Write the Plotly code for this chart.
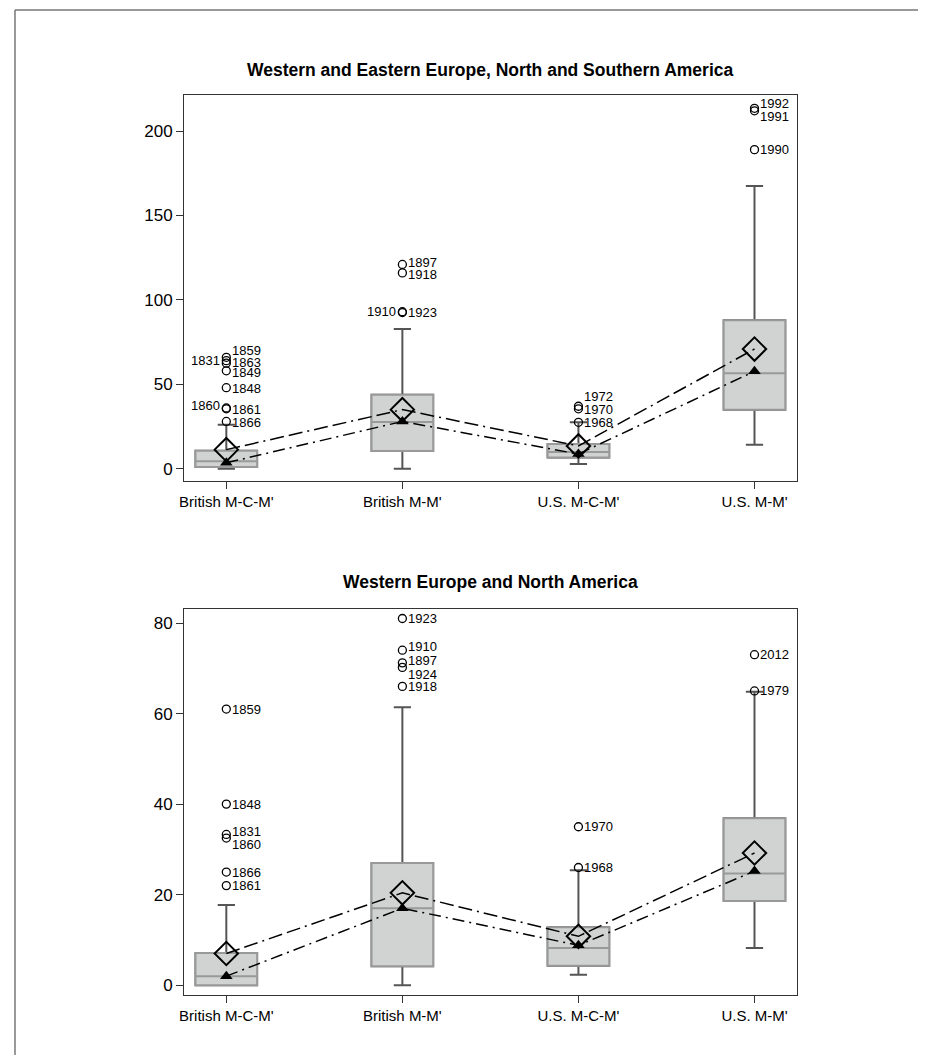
import plotly.graph_objects as go

categories = ["British M-C-M'", "British M-M'", "U.S. M-C-M'", "U.S. M-M'"]
positions = [0, 1, 2, 3]

# ---- top panel: Western and Eastern Europe, North and Southern America ----
top_title = "Western and Eastern Europe, North and Southern America"
top_lowerfence = [0.0, 0.0, 2.8, 14.2]
top_q1 = [1.0, 10.5, 6.7, 35.0]
top_median = [4.4, 27.7, 9.9, 56.5]
top_q3 = [10.7, 43.8, 14.6, 87.9]
top_upperfence = [26.1, 82.8, 27.5, 167.4]
top_mean = [11.3, 35.0, 13.5, 70.9]
top_triangle = [3.5, 28.0, 8.7, 57.7]
top_out_cat = [0, 0, 0, 0, 0, 0, 0, 0, 1, 1, 1, 1, 2, 2, 2, 3, 3, 3]
top_out_val = [66.0, 64.0, 62.5, 58.0, 48.0, 36.0, 35.5, 28.0,
               121.0, 116.0, 93.0, 92.5,
               37.0, 35.5, 27.5,
               213.5, 212.0, 189.0]
top_out_year = ["1859", "1831", "1863", "1849", "1848", "1860", "1861", "1866",
                "1897", "1918", "1910", "1923",
                "1972", "1970", "1968",
                "1992", "1991", "1990"]

# ---- bottom panel: Western Europe and North America ----
bot_title = "Western Europe and North America"
bot_lowerfence = [0.0, 0.0, 2.3, 8.2]
bot_q1 = [0.0, 4.2, 4.3, 18.6]
bot_median = [2.0, 17.0, 8.2, 24.7]
bot_q3 = [7.1, 27.0, 12.8, 36.9]
bot_upperfence = [17.7, 61.4, 25.4, 64.8]
bot_mean = [7.0, 20.4, 10.8, 29.2]
bot_triangle = [2.0, 17.0, 8.8, 25.2]
bot_out_cat = [0, 0, 0, 0, 0, 0, 1, 1, 1, 1, 1, 2, 2, 3, 3]
bot_out_val = [61.0, 40.0, 33.3, 32.5, 25.0, 22.0,
               81.0, 74.0, 71.2, 70.2, 66.0,
               35.0, 26.0,
               73.0, 65.0]
bot_out_year = ["1859", "1848", "1831", "1860", "1866", "1861",
                "1923", "1910", "1897", "1924", "1918",
                "1970", "1968",
                "2012", "1979"]

# label placement (style): side and vertical pixel shift
top_label_side = ["r", "l", "r", "r", "r", "l", "r", "r",
                  "r", "r", "l", "r",
                  "r", "r", "r",
                  "r", "r", "r"]
top_label_shift = [7, 0, 1, -2, -1, 2, -1, -1,
                   2, -2, 0, 0,
                   10, -1, 0,
                   5, -6, 0]
bot_label_side = ["r"] * 15
bot_label_shift = [0, 0, 3, -6, 0, 0,
                   0, 4, 2, -7, 0,
                   0, 0,
                   0, 0]

W, H = 926, 1055
FONT = "Liberation Sans, Arial, sans-serif"

fig = go.Figure()


def add_panel(fig, xa, ya, lf, q1, med, q3, uf, mean, tri, ocat, oval, oyear, side, shift):
    # whiskers (dark gray)
    fig.add_trace(go.Box(
        x=positions, q1=q1, median=med, q3=q3, lowerfence=lf, upperfence=uf,
        boxpoints=False, width=0.35, whiskerwidth=0.28,
        line=dict(color="#555555", width=2), fillcolor="rgba(0,0,0,0)",
        xaxis=xa, yaxis=ya, showlegend=False, hoverinfo="skip"))
    # box body (light gray)
    fig.add_trace(go.Box(
        x=positions, q1=q1, median=med, q3=q3, lowerfence=q1, upperfence=q3,
        boxpoints=False, width=0.35, whiskerwidth=0,
        line=dict(color="#999999", width=2), fillcolor="#d1d3d3",
        xaxis=xa, yaxis=ya, showlegend=False, hoverinfo="skip"))
    # connecting lines
    fig.add_trace(go.Scatter(
        x=positions, y=mean, mode="lines",
        line=dict(color="black", width=1.5, dash="14px,5px,14px,5px,2px,5px"),
        xaxis=xa, yaxis=ya, showlegend=False, hoverinfo="skip"))
    fig.add_trace(go.Scatter(
        x=positions, y=tri, mode="lines",
        line=dict(color="black", width=1.5, dash="12px,5px,2px,5px"),
        xaxis=xa, yaxis=ya, showlegend=False, hoverinfo="skip"))
    # markers
    fig.add_trace(go.Scatter(
        x=positions, y=mean, mode="markers",
        marker=dict(symbol="diamond-open", size=18, color="black", line=dict(width=2)),
        xaxis=xa, yaxis=ya, showlegend=False, hoverinfo="skip"))
    fig.add_trace(go.Scatter(
        x=positions, y=tri, mode="markers",
        marker=dict(symbol="triangle-up", size=11, color="black"),
        xaxis=xa, yaxis=ya, showlegend=False, hoverinfo="skip"))
    # outliers
    fig.add_trace(go.Scatter(
        x=ocat, y=oval, mode="markers",
        marker=dict(symbol="circle-open", size=8, color="black", line=dict(width=1.3)),
        xaxis=xa, yaxis=ya, showlegend=False, hoverinfo="skip"))
    for c, v, t, s, sh in zip(ocat, oval, oyear, side, shift):
        fig.add_annotation(
            x=c, y=v, xref=xa, yref=ya, text=t, showarrow=False,
            xanchor="left" if s == "r" else "right",
            xshift=4 if s == "r" else -4, yshift=sh, yanchor="middle",
            font=dict(family=FONT, size=13, color="black"))


add_panel(fig, "x", "y", top_lowerfence, top_q1, top_median, top_q3, top_upperfence,
          top_mean, top_triangle, top_out_cat, top_out_val, top_out_year,
          top_label_side, top_label_shift)
add_panel(fig, "x2", "y2", bot_lowerfence, bot_q1, bot_median, bot_q3, bot_upperfence,
          bot_mean, bot_triangle, bot_out_cat, bot_out_val, bot_out_year,
          bot_label_side, bot_label_shift)

xdom = [172 / W, 788 / W]
axis_common = dict(showline=True, mirror=True, linecolor="#333333", linewidth=1,
                   ticks="outside", ticklen=7, tickcolor="#333333", showgrid=False,
                   zeroline=False)
xcommon = dict(axis_common, tickvals=positions, ticktext=categories, range=[-0.24, 3.24],
               tickfont=dict(family=FONT, size=15, color="black"))
ycommon = dict(axis_common, tickfont=dict(family=FONT, size=17, color="black"))

fig.update_layout(
    width=W, height=H,
    margin=dict(l=0, r=0, t=0, b=0),
    paper_bgcolor="white", plot_bgcolor="white",
    xaxis=dict(xcommon, domain=xdom, anchor="y"),
    yaxis=dict(ycommon, domain=[1 - 472.7 / H, 1 - 87.3 / H], range=[-7.1, 221.2],
               tickvals=[0, 50, 100, 150, 200], anchor="x"),
    xaxis2=dict(xcommon, domain=xdom, anchor="y2"),
    yaxis2=dict(ycommon, domain=[1 - 987.3 / H, 1 - 601 / H], range=[-2.23, 83.1],
                tickvals=[0, 20, 40, 60, 80], anchor="x2"),
    boxmode="overlay",
)

for txt, ypx in [(top_title, 62), (bot_title, 574)]:
    fig.add_annotation(x=480 / W, y=1 - ypx / H, xref="paper", yref="paper", text="<b>" + txt + "</b>",
                       showarrow=False, xanchor="center", yanchor="middle",
                       font=dict(family=FONT, size=17.5, color="black"))

# outer frame
fig.add_shape(type="line", xref="paper", yref="paper", x0=2 / W, x1=1.01, y0=1 - 2 / H, y1=1 - 2 / H,
              line=dict(color="#777777", width=1.5))
fig.add_shape(type="line", xref="paper", yref="paper", x0=2 / W, x1=2 / W, y0=1 - 2 / H, y1=-0.01,
              line=dict(color="#777777", width=1.5))

fig.write_html("out.html")
